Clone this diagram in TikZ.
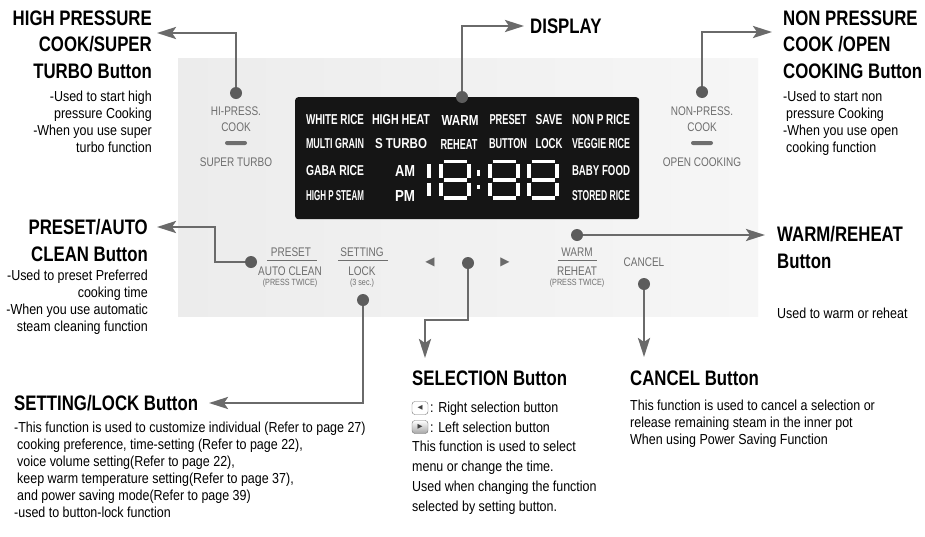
\documentclass[tikz,border=0pt]{standalone}
\usepackage{graphicx}
\usepackage{fontspec}
\setmainfont{Liberation Sans}
\newfontfamily\headfont[FakeStretch=0.8]{Liberation Sans}
\newfontfamily\bodyfont[FakeStretch=0.86]{Liberation Sans}
\newfontfamily\panelfont[FakeStretch=0.8]{Liberation Sans}
\newfontfamily\lcdfont{Liberation Sans}
\newfontfamily\symfont{DejaVu Sans}
\usetikzlibrary{arrows.meta}

\definecolor{lineg}{HTML}{6A6A6A}
\definecolor{dotg}{HTML}{5C5C5C}
\definecolor{labelg}{HTML}{6E6E6E}
\definecolor{panell}{HTML}{ECECEC}
\definecolor{panelr}{HTML}{F6F6F6}
\definecolor{lcdbg}{HTML}{151515}

% a display word squeezed to the width it has on the panel
\newcommand{\lcdword}[3]{\resizebox{#1pt}{#2pt}{\lcdfont\bfseries #3}}
% one seven-segment "8", left edge at x=#1
\newcommand{\segeight}[1]{%
  \begin{scope}[xshift=#1pt]
    \draw[seg] (4.5,161.5) -- (27.5,161.5);
    \draw[seg] (4.5,180) -- (27.5,180);
    \draw[seg] (4.5,198) -- (27.5,198);
    \draw[seg] (2,164) -- (2,177.5);
    \draw[seg] (2,182.5) -- (2,196);
    \draw[seg] (30,164) -- (30,177.5);
    \draw[seg] (30,182.5) -- (30,196);
  \end{scope}}

\begin{document}
\begin{tikzpicture}[
  x=1pt,y=-1pt,
  >={Stealth[length=19pt,width=12pt,inset=4pt]},
  callout/.style={->,draw=lineg,line width=2.6pt},
  btndot/.style={circle,fill=dotg,minimum size=12pt,inner sep=0pt},
  headlbl/.style={font=\headfont\bfseries\fontsize{21}{26.5}\selectfont,inner sep=0pt},
  bodylbl/.style={font=\bodyfont\fontsize{14.5}{17}\selectfont,inner sep=0pt},
  panellbl/.style={font=\panelfont\fontsize{12.5}{13}\selectfont,text=labelg,inner sep=0pt},
  smalllbl/.style={font=\panelfont\fontsize{9}{9}\selectfont,text=labelg,inner sep=0pt},
  lcdlbl/.style={text=white,inner sep=0pt},
  seg/.style={draw=white,line width=3.2pt},
  tri/.style={font=\symfont\fontsize{12}{12}\selectfont,text=lineg,inner sep=0pt},
  selicon/.style={draw=black!55,rounded corners=3pt,minimum width=16pt,
                  minimum height=13pt,inner sep=0pt,text=black!75,
                  font=\symfont\fontsize{6.5}{6.5}\selectfont},
]
\useasboundingbox (0,0) rectangle (925,536);
\fill[white] (0,0) rectangle (925,536);

% control panel
\shade[left color=panell,right color=panelr] (178,58) rectangle (758,316);

% display window
\node[fill=lcdbg,rounded corners=3pt,minimum width=344pt,minimum height=122pt,
      anchor=north west,inner sep=0pt] (lcd) at (295,97) {};
\node[lcdlbl] (lcdwhite)  at (335,120) {\lcdword{58}{10}{WHITE RICE}};
\node[lcdlbl] (lcdheat)   at (401,120) {\lcdword{58}{10}{HIGH HEAT}};
\node[lcdlbl] (lcdwarm)   at (460,120) {\lcdword{37}{10}{WARM}};
\node[lcdlbl] (lcdpreset) at (508,120) {\lcdword{37}{10}{PRESET}};
\node[lcdlbl] (lcdsave)   at (549,120) {\lcdword{27}{10}{SAVE}};
\node[lcdlbl] (lcdnonp)   at (601,120) {\lcdword{58}{10}{NON P RICE}};
\node[lcdlbl] (lcdmulti)  at (335,144) {\lcdword{58}{10}{MULTI GRAIN}};
\node[lcdlbl] (lcdturbo)  at (401,144) {\lcdword{52}{10}{S TURBO}};
\node[lcdlbl] (lcdreheat) at (459,144) {\lcdword{37}{10}{REHEAT}};
\node[lcdlbl] (lcdbutton) at (508,144) {\lcdword{38}{10}{BUTTON}};
\node[lcdlbl] (lcdlock)   at (549,144) {\lcdword{27}{10}{LOCK}};
\node[lcdlbl] (lcdveggie) at (601,144) {\lcdword{58}{10}{VEGGIE RICE}};
\node[lcdlbl] (lcdgaba)   at (335,171) {\lcdword{58}{10}{GABA RICE}};
\node[lcdlbl] (lcdam)     at (405,171) {\lcdword{20}{11}{AM}};
\node[lcdlbl] (lcdbaby)   at (601,171) {\lcdword{58}{10}{BABY FOOD}};
\node[lcdlbl] (lcdsteam)  at (335,196) {\lcdword{58}{10}{HIGH P STEAM}};
\node[lcdlbl] (lcdpm)     at (405,196) {\lcdword{20}{11}{PM}};
\node[lcdlbl] (lcdstored) at (601,196) {\lcdword{58}{10}{STORED RICE}};

% clock digits 1 8:88
\draw[seg] (429,164) -- (429,177.5);
\draw[seg] (429,182.5) -- (429,196);
\segeight{439}
\fill[white] (477,170) rectangle (480,176);
\fill[white] (477,185) rectangle (480,189);
\segeight{488}
\segeight{527}

% panel button labels
\node[panellbl] (hplbl)   at (236,111) {HI-PRESS.};
\node[panellbl] (hpcook)  at (236,127) {COOK};
\fill[labelg,rounded corners=2pt] (225,141) rectangle (247,145);
\node[panellbl] (hpturbo) at (236,162) {SUPER TURBO};

\node[panellbl] (nplbl)   at (702,111) {NON-PRESS.};
\node[panellbl] (npcook)  at (702,127) {COOK};
\fill[labelg,rounded corners=2pt] (691,141) rectangle (713,145);
\node[panellbl] (npopen)  at (702,162) {OPEN COOKING};

\node[panellbl] (prelbl)  at (291,252) {PRESET};
\draw[labelg,line width=0.8pt] (267,260) -- (317,260);
\node[panellbl] (preauto) at (290,271) {AUTO CLEAN};
\node[smalllbl] (pretwice) at (290,283) {(PRESS TWICE)};

\node[panellbl] (setlbl)  at (362,252) {SETTING};
\draw[labelg,line width=0.8pt] (338,260) -- (388,260);
\node[panellbl] (setlock) at (362,271) {LOCK};
\node[smalllbl] (setsec)  at (362,283) {(3 sec.)};

\node[tri] (selleft)  at (430,262) {◀};
\node[tri] (selright) at (505,262) {▶};

\node[panellbl] (warmlbl) at (577,252) {WARM};
\draw[labelg,line width=0.8pt] (558,260) -- (597,260);
\node[panellbl] (warmre)  at (577,271) {REHEAT};
\node[smalllbl] (warmtwice) at (577,283) {(PRESS TWICE)};

\node[panellbl] (canlbl)  at (644,262) {CANCEL};

% button dots
\node[btndot] (hpdot)   at (236,93)  {};
\node[btndot] (dispdot) at (462,97)  {};
\node[btndot] (npdot)   at (702,92)  {};
\node[btndot] (predot)  at (251,262) {};
\node[btndot] (setdot)  at (363,300) {};
\node[btndot] (seldot)  at (468,263) {};
\node[btndot] (warmdot) at (577,235) {};
\node[btndot] (candot)  at (644,284) {};

% headings and explanations
\node[headlbl,align=right,anchor=north east] (hphead) at (152,10.5)
     {HIGH PRESSURE\\COOK/SUPER\\TURBO Button};
\node[bodylbl,align=right,anchor=north east] (hpbody) at (152,91)
     {-Used to start high\\pressure Cooking\\-When you use super\\turbo function};

\node[headlbl,anchor=base west] (disphead) at (530,33.5) {DISPLAY};

\node[headlbl,align=left,anchor=north west] (nphead) at (783,10.5)
     {NON PRESSURE\\COOK /OPEN\\COOKING Button};
\node[bodylbl,align=left,anchor=north west] (npbody) at (783,91)
     {-Used to start non\\\hspace*{3pt}pressure Cooking\\-When you use open\\\hspace*{3pt}cooking function};

\node[headlbl,align=right,anchor=north east] (prehead) at (148,219.5)
     {PRESET/AUTO\\CLEAN Button};
\node[bodylbl,align=right,anchor=north east] (prebody) at (148,269.5)
     {-Used to preset Preferred\\cooking time\\-When you use automatic\\steam cleaning function};

\node[headlbl,align=left,anchor=north west] (warmhead) at (777,226.5)
     {WARM/REHEAT\\Button};
\node[bodylbl,anchor=north west] (warmbody) at (777,307.5) {Used to warm or reheat};

\node[headlbl,anchor=base west] (sethead) at (14,410.5) {SETTING/LOCK Button};
\node[bodylbl,align=left,anchor=north west] (setbody) at (14,421.5)
     {-This function is used to customize individual (Refer to page 27)\\
      \hspace*{3pt}cooking preference, time-setting (Refer to page 22),\\
      \hspace*{3pt}voice volume setting(Refer to page 22),\\
      \hspace*{3pt}keep warm temperature setting(Refer to page 37),\\
      \hspace*{3pt}and power saving mode(Refer to page 39)\\
      -used to button-lock function};

\node[headlbl,anchor=base west] (selhead) at (412,385.5) {SELECTION Button};
\node[selicon,fill=white] (iconleft) at (420,408) {◀};
\node[selicon,top color=white,bottom color=black!35] (iconright) at (420,427) {▶};
\node[bodylbl,align=left,anchor=north west,
      font=\bodyfont\fontsize{14.5}{19.8}\selectfont] (selbody) at (412,401.5)
     {\hspace*{18pt}: Right selection button\\
      \hspace*{18pt}: Left selection button\\
      This function is used to select\\
      menu or change the time.\\
      Used when changing the function\\
      selected by setting button.};

\node[headlbl,anchor=base west] (canhead) at (630,385.5) {CANCEL Button};
\node[bodylbl,align=left,anchor=north west] (canbody) at (630,399.5)
     {This function is used to cancel a selection or\\
      release remaining steam in the inner pot\\
      When using Power Saving Function};

% arrow ends and bends
\coordinate (hptip)   at (157,33);
\coordinate (disptip) at (524,26);
\coordinate (nptip)   at (772,32);
\coordinate (prebend) at (215,227);
\coordinate (pretip)  at (157,227);
\coordinate (settip)  at (209,403);
\coordinate (selbend) at (425,320);
\coordinate (seltip)  at (425,358);
\coordinate (warmtip) at (765,235);
\coordinate (cantip)  at (644,357);

% callouts
\draw[callout] (hpdot) |- (hptip);
\draw[callout] (dispdot) |- (disptip);
\draw[callout] (npdot) |- (nptip);
\draw[callout] (predot) -| (prebend) -- (pretip);
\draw[callout] (setdot) |- (settip);
\draw[callout] (seldot) |- (selbend) -- (seltip);
\draw[callout] (warmdot) -- (warmtip);
\draw[callout] (candot) -- (cantip);

\end{tikzpicture}
\end{document}
